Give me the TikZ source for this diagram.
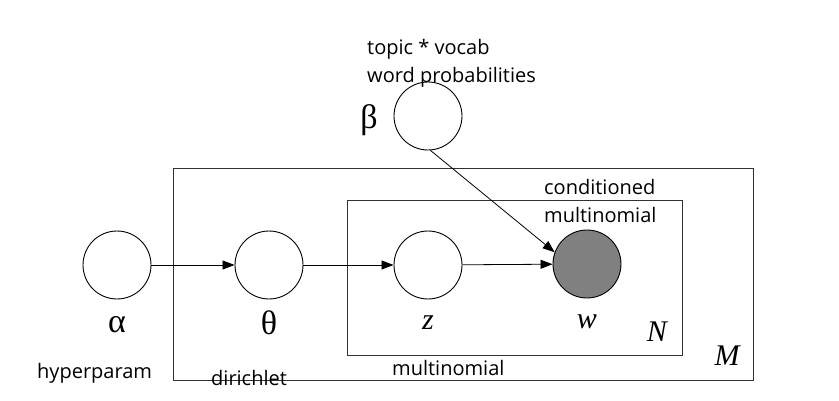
\documentclass[tikz,border=0pt]{standalone}
\usepackage{fontspec}
\setmainfont{Open Sans}
\newfontfamily\serifgk{Liberation Serif}
\usetikzlibrary{arrows.meta}
\tikzset{
  var/.style={circle,draw=black,line width=0.9pt,minimum size=68pt,inner sep=0pt,fill=white},
  obs/.style={var,fill={rgb,255:red,128;green,128;blue,128}},
  plate/.style={draw={rgb,255:red,50;green,50;blue,50},line width=0.9pt},
  edge/.style={line width=0.8pt,-{Triangle[length=12pt,width=9pt]}},
  lbl/.style={font=\fontsize{20}{22}\selectfont,anchor=west,inner sep=0pt},
  sym/.style={font=\serifgk\fontsize{30}{32}\selectfont,inner sep=0pt},
  gk/.style={font=\serifgk\fontsize{34}{36}\selectfont,inner sep=0pt},
}
\begin{document}
\begin{tikzpicture}[x=1pt,y=-1pt]
\useasboundingbox (0,0) rectangle (839,401);
\fill[white] (0,0) rectangle (839,401);
% plates
\draw[plate] (173,168) rectangle (753,380);
\draw[plate] (347,200) rectangle (682,355);
% variables
\node[var] (alpha) at (117,265) {};
\node[var] (theta) at (269,265) {};
\node[var] (z) at (428,265) {};
\node[obs] (w) at (587,264) {};
\node[var] (beta) at (428,116) {};
% edges
\draw[edge] (alpha) -- (theta);
\draw[edge] (theta) -- (z);
\draw[edge] (z) -- (w);
\draw[edge] (beta.-86) -- (w.160);
% symbols
\node[gk] (salpha) at (117,325) {α};
\node[gk] (stheta) at (269,323) {θ};
\node[sym] (sz) at (428,323) {\itshape z};
\node[sym] (sw) at (587,322) {\itshape w};
\node[gk] (sbeta) at (369,120) {β};
\node[sym] (sN) at (657,332) {\itshape N};
\node[sym] (sM) at (727,356) {\itshape M};
% labels
\node[lbl] (t1) at (367,49) {topic * vocab};
\node[lbl] (t2) at (367,77) {word probabilities};
\node[lbl] (t3) at (37,373) {hyperparam};
\node[lbl] (t4) at (211,378) {dirichlet};
\node[lbl] (t5) at (392,368) {multinomial};
\node[lbl] (t6) at (544,187) {conditioned};
\node[lbl] (t7) at (544,215) {multinomial};
\end{tikzpicture}
\end{document}
